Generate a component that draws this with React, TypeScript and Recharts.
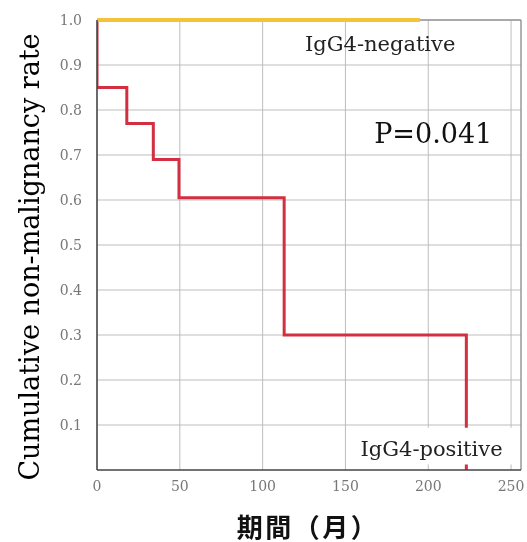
import {
  LineChart,
  Line,
  XAxis,
  YAxis,
  CartesianGrid,
  ReferenceLine,
  ReferenceArea,
  ReferenceDot,
} from 'recharts';

// Kaplan-Meier steps, months vs. cumulative non-malignancy rate
const positiveMonths = [0, 0, 18, 34, 49.5, 113, 223];
const positiveRates = [1.0, 0.85, 0.77, 0.69, 0.605, 0.30, 0];
const negativeMonths = [0, 195];
const negativeRates = [1.0, 1.0];

const xTicks = [0, 50, 100, 150, 200, 250];
const yTicks = [0.1, 0.2, 0.3, 0.4, 0.5, 0.6, 0.7, 0.8, 0.9, 1.0];

const positiveData = positiveMonths.map((m, i) => ({ month: m, rate: positiveRates[i] }));
const negativeData = negativeMonths.map((m, i) => ({ month: m, rate: negativeRates[i] }));

const serif = '"DejaVu Serif", serif';

function YTitle({ viewBox }: any) {
  const cx = viewBox.x + 29;
  const cy = viewBox.y + viewBox.height / 2 + 12;
  return (
    <text
      x={cx}
      y={cy}
      transform={`rotate(-90 ${cx} ${cy})`}
      textAnchor="middle"
      dominantBaseline="central"
      fontFamily={serif}
      fontSize={27}
      fill="#000"
    >
      Cumulative non-malignancy rate
    </text>
  );
}

function XTitle({ viewBox }: any) {
  const cx = viewBox.x + viewBox.width / 2 - 1;
  const cy = viewBox.y + 55;
  return (
    <text
      x={cx}
      y={cy}
      textAnchor="middle"
      dominantBaseline="central"
      fontFamily='"Noto Sans CJK JP", sans-serif'
      fontWeight="bold"
      fontSize={26}
      letterSpacing={2.5}
      fill="#111"
    >
      期間（月）
    </text>
  );
}

export default function App() {
  return (
    <div style={{ position: 'fixed', left: 0, top: 0 }}>
      <LineChart
        width={527}
        height={542}
        margin={{ top: 20, right: 6, left: 0, bottom: 0 }}
      >
        <CartesianGrid stroke="#bdbdbd" strokeWidth={1} horizontalValues={yTicks} verticalValues={xTicks} />
        <XAxis
          type="number"
          dataKey="month"
          domain={[0, 256]}
          ticks={xTicks}
          allowDataOverflow
          height={72}
          tickSize={0}
          tickMargin={11}
          axisLine={{ stroke: '#444', strokeWidth: 1.5 }}
          tick={{ fontFamily: serif, fontSize: 14, fill: '#777' }}
          label={<XTitle />}
        />
        <YAxis
          type="number"
          dataKey="rate"
          domain={[0, 1]}
          ticks={yTicks}
          width={97}
          tickSize={0}
          tickMargin={15}
          axisLine={{ stroke: '#444', strokeWidth: 1.5 }}
          tick={{ fontFamily: serif, fontSize: 14, fill: '#777' }}
          tickFormatter={(v: number) => v.toFixed(1)}
          label={<YTitle />}
        />
        <ReferenceLine x={256} stroke="#999" strokeWidth={1.5} />
        <ReferenceLine y={1} stroke="#999" strokeWidth={1.5} />
        <Line
          data={positiveData}
          dataKey="rate"
          type="stepAfter"
          stroke="#d22f40"
          strokeWidth={3}
          dot={false}
          isAnimationActive={false}
        />
        <Line
          data={negativeData}
          dataKey="rate"
          type="linear"
          stroke="#f4c33a"
          strokeWidth={4}
          dot={false}
          isAnimationActive={false}
        />
        <ReferenceArea
          x1={153}
          x2={254}
          y1={0.012}
          y2={0.094}
          fill="#fff"
          fillOpacity={1}
          stroke="none"
          zIndex={900}
        />
        <ReferenceDot
          x={171}
          y={0.947}
          r={0}
          zIndex={1000}
          label={{ value: 'IgG4-negative', position: 'center', fontFamily: serif, fontSize: 21, fill: '#222' }}
        />
        <ReferenceDot
          x={203}
          y={0.747}
          r={0}
          zIndex={1000}
          label={{ value: 'P=0.041', position: 'center', fontFamily: serif, fontSize: 27, fill: '#111' }}
        />
        <ReferenceDot
          x={202}
          y={0.047}
          r={0}
          zIndex={1000}
          label={{ value: 'IgG4-positive', position: 'center', fontFamily: serif, fontSize: 21, fill: '#222' }}
        />
      </LineChart>
    </div>
  );
}
